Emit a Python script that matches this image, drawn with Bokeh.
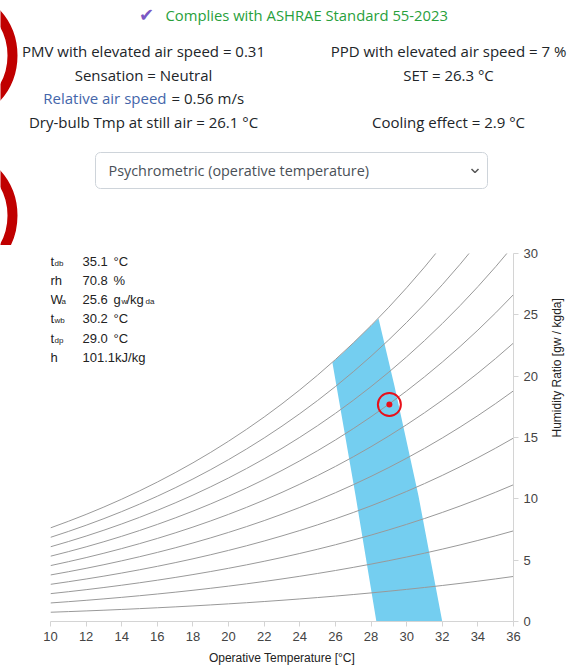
import math
from bokeh.plotting import figure
from bokeh.models import Range1d, Label, FixedTicker
from bokeh.embed import file_html
from bokeh.resources import INLINE

# ---------------- data ----------------
temps = list(range(10, 37))  # operative temperature, degC
# saturation vapour pressure of water (kPa) at each temperature (table values)
psat_kpa = [1.2282, 1.3130, 1.4028, 1.4981, 1.5990, 1.7058, 1.8188, 1.9384,
            2.0647, 2.1983, 2.3393, 2.4882, 2.6453, 2.8111, 2.9858, 3.1699,
            3.3639, 3.5681, 3.7831, 4.0092, 4.2470, 4.4969, 4.7596, 5.0354,
            5.3251, 5.6290, 5.9479]
rh_levels = [0.1, 0.2, 0.3, 0.4, 0.5, 0.6, 0.7, 0.8, 0.9, 1.0]
p_atm = 101.325

# comfort zone outline (operative temperature, humidity ratio g/kg)
zone_t = [28.30, 27.13, 25.83, 26.50, 27.50, 28.42, 29.31, 30.66, 32.00]
zone_w = [0.00, 10.27, 21.11, 22.00, 23.40, 24.70, 19.23, 10.27, 0.00]

# current condition
point_t = [29.03]
point_w = [17.69]

x_ticks = list(range(10, 37, 2))
y_ticks = [0, 5, 10, 15, 20, 25, 30]

info_names = ["t", "rh", "W", "t", "t", "h"]
info_subs = ["db", "", "a", "wb", "dp", ""]
info_values = ["35.1", "70.8", "25.6", "30.2", "29.0", "101.1kJ/kg"]
info_units = ["°C", "%", "g", "°C", "°C", ""]

left_lines = ["PMV with elevated air speed = 0.31", "Sensation = Neutral",
              None, "Dry-bulb Tmp at still air = 26.1 °C"]
right_lines = ["PPD with elevated air speed = 7 %", "SET = 26.3 °C",
               None, "Cooling effect = 2.9 °C"]

UI_FONT = "Open Sans"
CH_FONT = "Liberation Sans"
DARK = "#212529"
W_PAGE = 580
ROW_FS = "15px"

# ---------------- top (status panel) ----------------
top = figure(width=W_PAGE, height=245, x_range=Range1d(0, W_PAGE), y_range=Range1d(245, 0),
             x_axis_type=None, y_axis_type=None, output_backend="svg",
             toolbar_location=None, min_border=0)
top.grid.visible = False
top.outline_line_color = None

top.circle(x=[-51, -51], y=[55, 215], radius=63, fill_color=None,
           line_color="#c00000", line_width=10)

top.add_layout(Label(x=146, y=14, text="✔", text_font="DejaVu Sans", text_font_size="18px",
                     text_color="#7b58c4", text_align="center", text_baseline="middle"))
top.add_layout(Label(x=165, y=14, text="Complies with ASHRAE Standard 55-2023",
                     text_font=UI_FONT, text_font_size="14.8px", text_color="#28a03c",
                     text_align="left", text_baseline="middle"))

rows_y = [50, 74, 97, 121]
for yy, t in zip(rows_y, left_lines):
    if t:
        top.add_layout(Label(x=143, y=yy, text=t, text_font=UI_FONT, text_font_size=ROW_FS,
                             text_color=DARK, text_align="center", text_baseline="middle"))
for yy, t in zip(rows_y, right_lines):
    if t:
        top.add_layout(Label(x=448, y=yy, text=t, text_font=UI_FONT, text_font_size=ROW_FS,
                             text_color=DARK, text_align="center", text_baseline="middle"))
top.add_layout(Label(x=166, y=97, text="Relative air speed", text_font=UI_FONT,
                     text_font_size=ROW_FS, text_color="#4466aa", text_align="right",
                     text_baseline="middle"))
top.add_layout(Label(x=171, y=97, text="= 0.56 m/s", text_font=UI_FONT,
                     text_font_size=ROW_FS, text_color=DARK, text_align="left",
                     text_baseline="middle"))

# dropdown
top.quad(left=[95], right=[487], top=[152], bottom=[188], fill_color="white",
         line_color="#ced4da", line_width=1, border_radius=5)
top.add_layout(Label(x=108, y=170, text="Psychrometric (operative temperature)",
                     text_font=UI_FONT, text_font_size="14.4px", text_color="#495057",
                     text_align="left", text_baseline="middle"))
top.line(x=[471, 474.5, 478], y=[168.5, 172, 168.5], line_color="#555555", line_width=1.5)

# ---------------- psychrometric chart ----------------
p = figure(width=W_PAGE, height=422, x_range=Range1d(10, 36), y_range=Range1d(0, 30),
           x_axis_location="below", y_axis_location="right",
           output_backend="svg", toolbar_location=None,
           min_border_left=50, min_border_right=W_PAGE - 513, min_border_top=8,
           min_border_bottom=46)
p.grid.visible = False
p.outline_line_color = None

p.patch(zone_t, zone_w, fill_color="#74cef0", line_color=None)

for rh in rh_levels:
    w = [621.945 * rh * ps / (p_atm - rh * ps) for ps in psat_kpa]
    p.line(temps, w, line_color="#999999", line_width=1)

p.scatter(point_t, point_w, size=23, marker="circle", fill_color=None,
          line_color="#e8101a", line_width=2)
p.scatter(point_t, point_w, size=6, marker="circle", fill_color="#e8101a",
          line_color=None)

for ax in (p.xaxis[0], p.yaxis[0]):
    ax.axis_line_color = "#d4d4d4"
    ax.major_tick_line_color = "#d4d4d4"
    ax.minor_tick_line_color = None
    ax.major_tick_in = 0
    ax.major_tick_out = 5
    ax.major_label_text_font = CH_FONT
    ax.major_label_text_font_size = "13px"
    ax.major_label_text_color = "#444444"
    ax.axis_label_text_font = CH_FONT
    ax.axis_label_text_font_size = "12px"
    ax.axis_label_text_font_style = "normal"
    ax.axis_label_text_color = "#222222"

p.xaxis[0].ticker = FixedTicker(ticks=x_ticks)
p.yaxis[0].ticker = FixedTicker(ticks=y_ticks)
p.xaxis[0].axis_label = "Operative Temperature [°C]"
p.yaxis[0].axis_label = "Humidity Ratio [gw / kgda]"
p.yaxis[0].axis_label_orientation = math.pi / 2
p.xaxis[0].major_label_standoff = 5
p.xaxis[0].axis_label_standoff = 7
p.yaxis[0].major_label_standoff = 5
p.yaxis[0].axis_label_standoff = 16

# info panel inside plot (top-left)
row_dy = [8, 27, 46, 65, 85, 104]
for i in range(6):
    base = dict(x=10, y=30, x_units="data", y_units="data", text_font=CH_FONT,
                text_color="#222222", text_baseline="middle", text_align="left")
    p.add_layout(Label(text=info_names[i], x_offset=0, y_offset=-row_dy[i],
                       text_font_size="13px", **base))
    if info_subs[i]:
        sx = 4 if info_names[i] == "t" else 11
        p.add_layout(Label(text=info_subs[i], x_offset=sx, y_offset=-row_dy[i] - 2,
                           text_font_size="8px", **base))
    p.add_layout(Label(text=info_values[i], x_offset=32, y_offset=-row_dy[i],
                       text_font_size="13px", **base))
    if info_units[i]:
        p.add_layout(Label(text=info_units[i], x_offset=63, y_offset=-row_dy[i],
                           text_font_size="13px", **base))
# extra pieces of the humidity ratio unit
p.add_layout(Label(x=10, y=30, x_offset=71, y_offset=-46 - 2, text="w", text_font=CH_FONT,
                   text_font_size="8px", text_color="#222222", text_baseline="middle"))
p.add_layout(Label(x=10, y=30, x_offset=76, y_offset=-46, text="/kg", text_font=CH_FONT,
                   text_font_size="13px", text_color="#222222", text_baseline="middle"))
p.add_layout(Label(x=10, y=30, x_offset=95, y_offset=-46 - 2, text="da", text_font=CH_FONT,
                   text_font_size="8px", text_color="#222222", text_baseline="middle"))

open("out.html", "w").write(file_html([top, p], INLINE))
